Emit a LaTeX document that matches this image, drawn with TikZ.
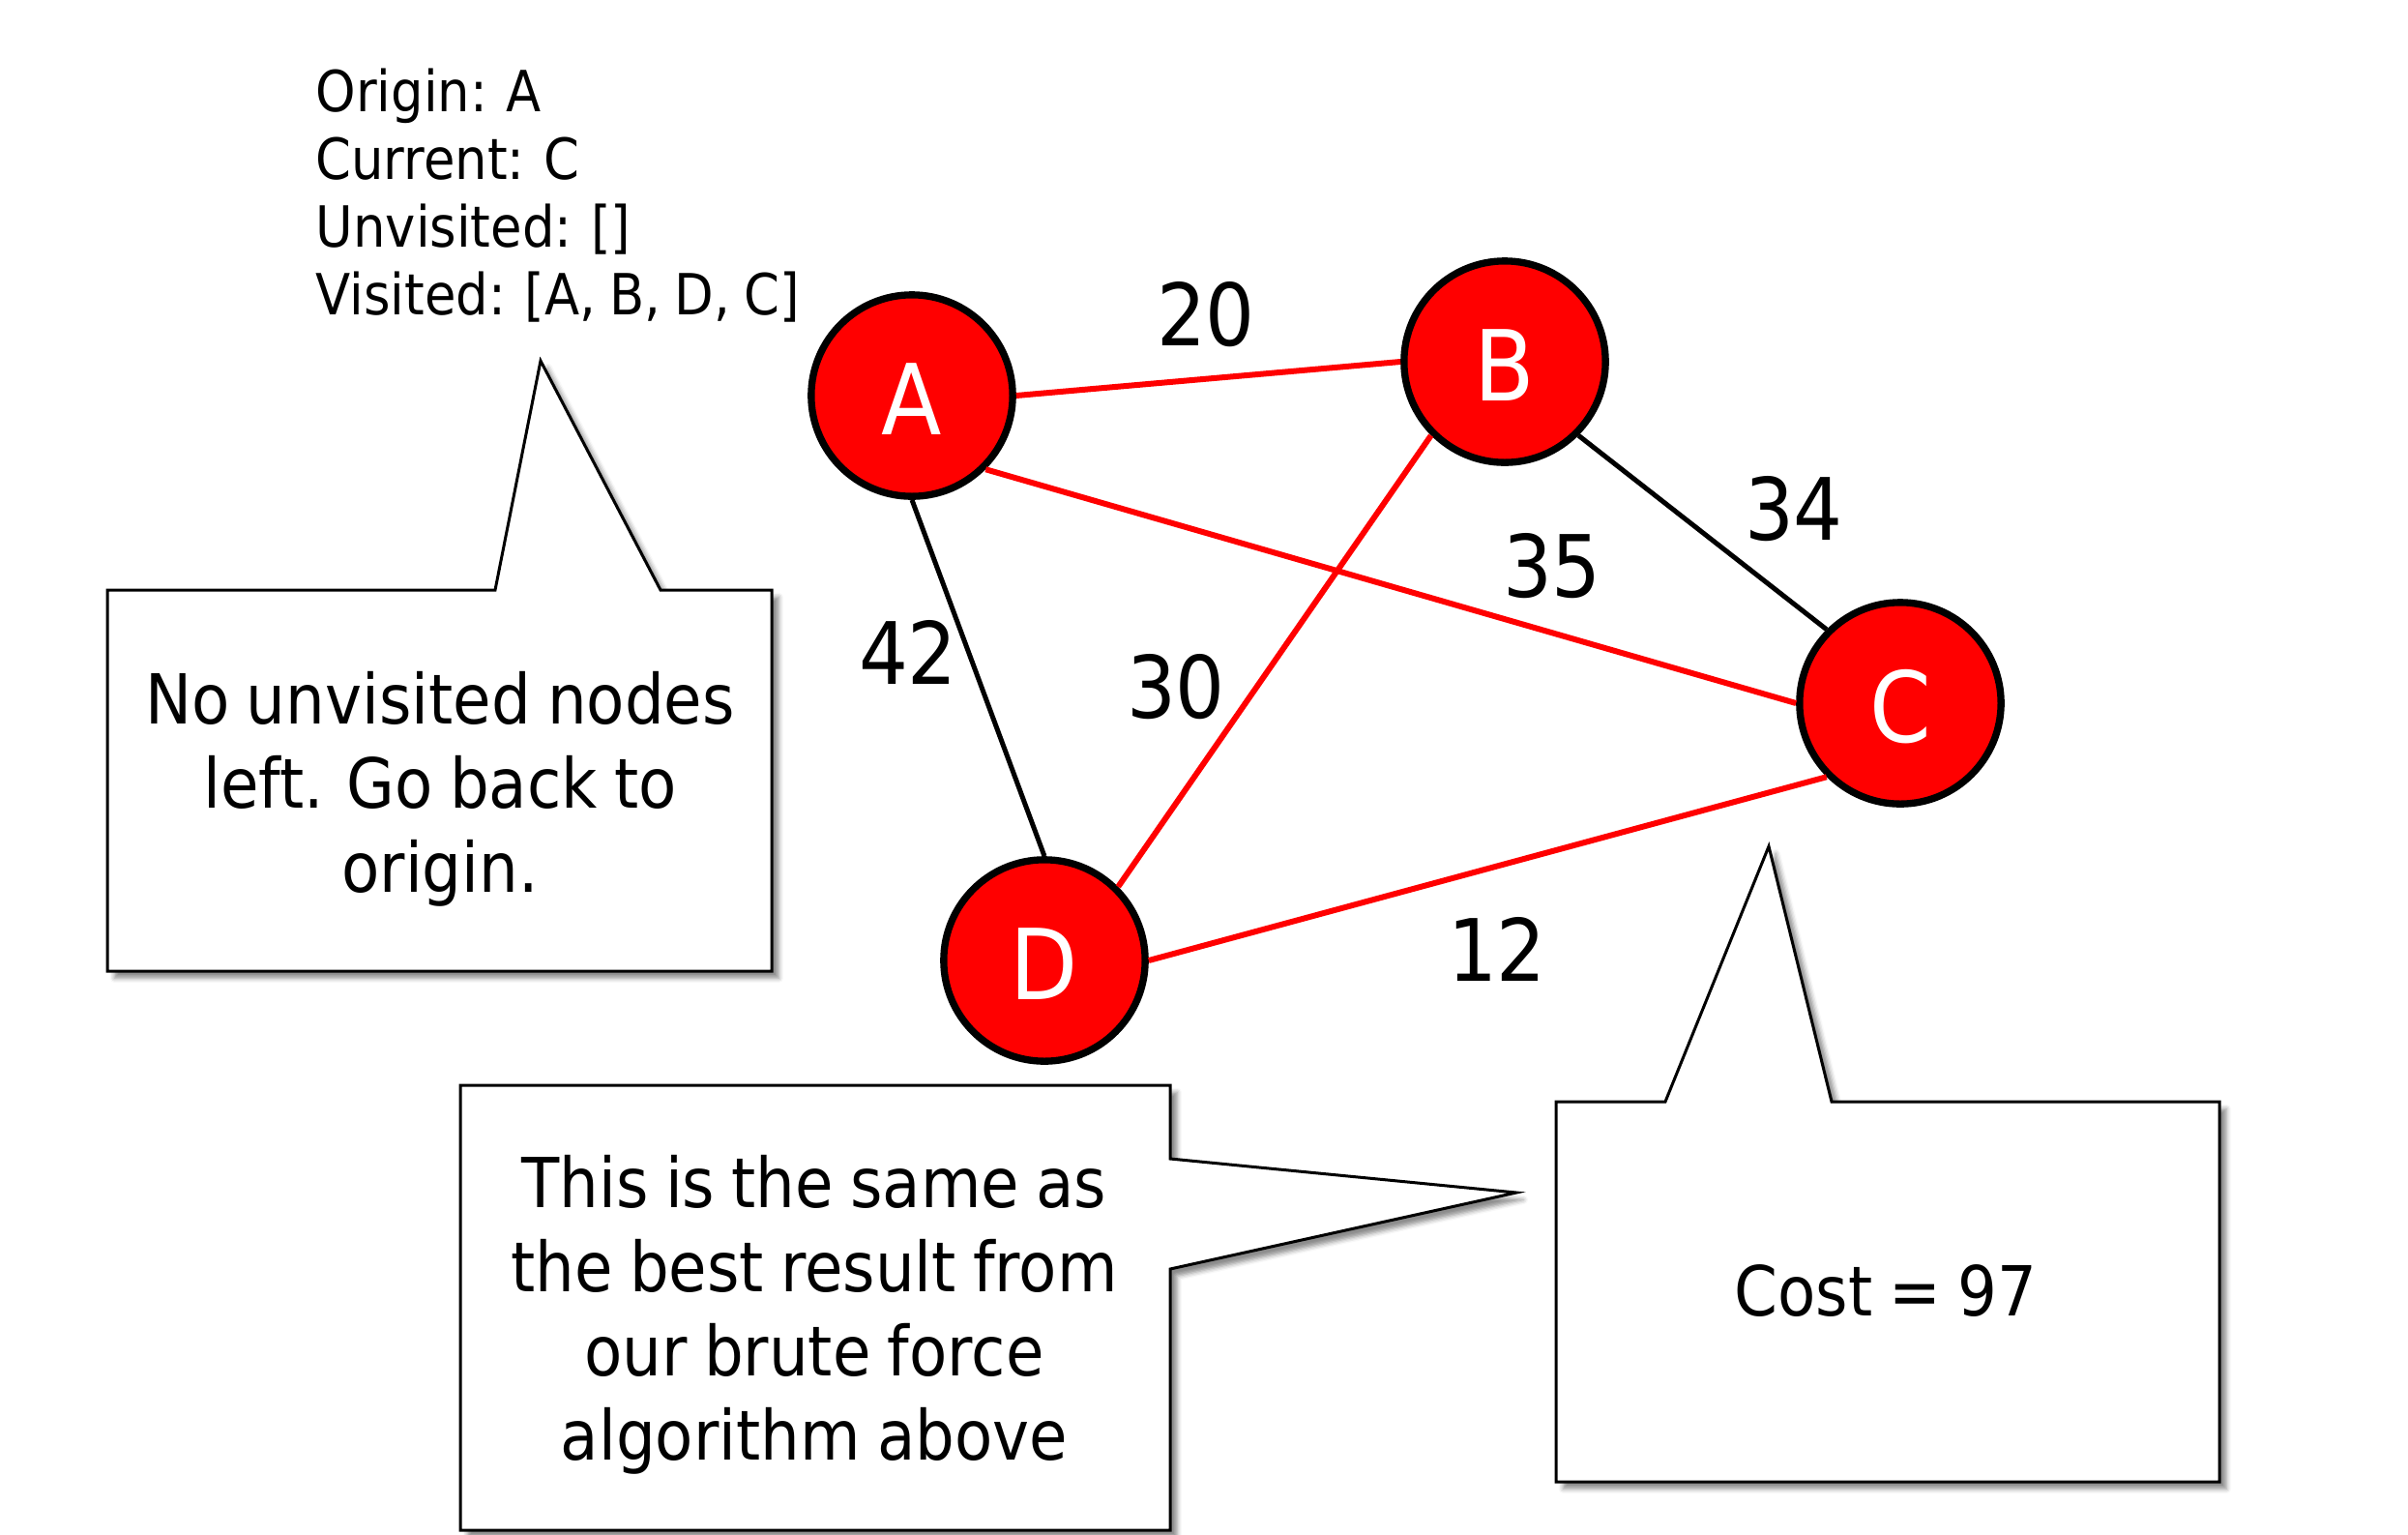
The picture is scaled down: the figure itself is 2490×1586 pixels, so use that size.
\documentclass[tikz,border=0pt]{standalone}
\usepackage{fontspec}
\setmainfont{DejaVu Sans}[FakeStretch=0.9,WordSpace=0.85]
\usetikzlibrary{shadows.blur}
\begin{document}
\begin{tikzpicture}[x=0.3pt,y=-0.3pt,
  city/.style={circle, draw=black, line width=2.2pt, fill=red, text=white,
    minimum size=62.5pt, inner sep=0pt, font=\fontsize{30.4}{30.4}\selectfont,
    text height=24pt, text depth=0pt},
  redroad/.style={draw=red, line width=1.8pt},
  blackroad/.style={draw=black, line width=1.5pt},
  weight/.style={font=\fontsize{26.7}{26.7}\selectfont, inner sep=0pt},
  callout/.style={draw=black, line width=0.9pt, fill=white, line join=miter,
    blur shadow={shadow xshift=2.2pt, shadow yshift=-2.2pt, shadow blur radius=1.4pt, shadow opacity=45}},
  note/.style={align=center, inner sep=0pt, font=\fontsize{21.4}{26.1}\selectfont}
]
\useasboundingbox (0,0) rectangle (2490,1586);

% callouts
\draw[callout] (111,610) -- (512,610) -- (559,373) -- (683,610) -- (798,610)
  -- (798,1004) -- (111,1004) -- cycle;
\draw[callout] (476,1122) -- (1210,1122) -- (1210,1198) -- (1568,1233) -- (1210,1312)
  -- (1210,1582) -- (476,1582) -- cycle;
\draw[callout] (1609,1139) -- (1722,1139) -- (1829,875) -- (1894,1139) -- (2295,1139)
  -- (2295,1532) -- (1609,1532) -- cycle;

\node[note] (leftnote) at (455,816) {No unvisited nodes\\left. Go back to\\origin.};
\node[note] (midnote) at (842,1359) {This is the same as\\the best result from\\our brute force\\algorithm above};
\node[note] (costnote) at (1950,1335) {Cost = 97};

% status text
\node[anchor=base west, align=left, inner sep=0pt, font=\fontsize{17.6}{21}\selectfont]
  (status) at (326,325) {Origin: A\\Current: C\\Unvisited: []\\Visited: [A, B, D, C]};

% cities
\node[city] (A) at (943,409) {A};
\node[city] (B) at (1556,374) {B};
\node[city] (C) at (1965,727) {C};
\node[city] (D) at (1080,993) {D};

% roads
\draw[redroad] (A.east) -- (B.west);
\draw[redroad] (A.south east) -- (C.west);
\draw[redroad] (B.south west) -- (D.north east);
\draw[redroad] (D.east) -- (C.south west);
\draw[blackroad] (A.south) -- (D.north);
\draw[blackroad] (B.south east) -- (C.north west);

% weights
\node[weight] (w20) at (1247,325) {20};
\node[weight] (w34) at (1855,526) {34};
\node[weight] (w35) at (1605,585) {35};
\node[weight] (w42) at (939,674) {42};
\node[weight] (w30) at (1216,710) {30};
\node[weight] (w12) at (1548,981) {12};
\end{tikzpicture}
\end{document}
